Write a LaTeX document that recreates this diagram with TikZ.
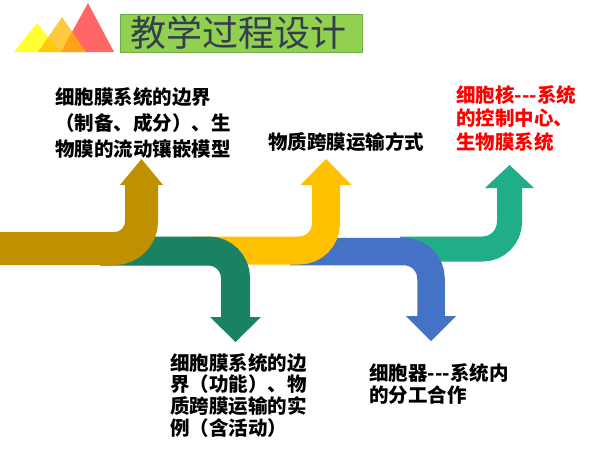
\documentclass[tikz,border=0pt]{standalone}
\usepackage{fontspec}
\newfontfamily\cjk{Noto Sans CJK SC}
\definecolor{cgold}{HTML}{BF9000}
\definecolor{cgreen}{HTML}{188262}
\definecolor{cyell}{HTML}{FFC000}
\definecolor{cblue}{HTML}{4472C4}
\definecolor{cteal}{HTML}{1FAE87}
\definecolor{ttlgreen}{HTML}{92D050}
\definecolor{ttlborder}{HTML}{70AD47}
\definecolor{ttltext}{HTML}{333F4F}
\definecolor{tri1}{HTML}{FFFF33}
\definecolor{tri2}{HTML}{FFB800}
\definecolor{tri3}{HTML}{FF6666}
\tikzset{
  lbl/.style={anchor=north west, inner sep=0pt, align=left},
  shaft/.style={line width=#1, rounded corners=27pt},
}
\begin{document}
\begin{tikzpicture}[x=1pt,y=-1pt]
\useasboundingbox[fill=white] (0,0) rectangle (600,450);
% decorative triangles
\fill[tri3] (61,52) -- (88,3) -- (114,52) -- cycle;
\fill[tri1] (14,52) -- (37,23) -- (60,52) -- cycle;
\fill[tri2, fill opacity=0.75] (38,52) -- (62,17) -- (86,52) -- cycle;
% title
\node[draw=ttlborder, fill=ttlgreen, minimum width=242pt, minimum height=38pt, inner sep=0pt, anchor=north west] (titlebox) at (120,14) {};
\node[font=\cjk\fontsize{36}{36}\selectfont, text=ttltext] (title) at (238,33) {教学过程设计};
% arrows (back to front)
% teal
\draw[shaft=25pt, cteal] (400,249) -- (509.5,249) -- (509.5,187);
\fill[cteal] (485,188) -- (534,188) -- (509.5,165) -- cycle;
% blue
\draw[shaft=27.5pt, cblue] (290,251.5) -- (431,251.5) -- (431,317);
\fill[cblue] (406,316) -- (456,316) -- (431,341) -- cycle;
% yellow
\draw[shaft=28pt, cyell] (190,250.5) -- (326,250.5) -- (326,184);
\fill[cyell] (300.5,185) -- (351.5,185) -- (326,159) -- cycle;
% green
\draw[shaft=29pt, cgreen] (100,251) -- (235.5,251) -- (235.5,318);
\fill[cgreen] (210,317) -- (261,317) -- (235.5,342) -- cycle;
% gold
\draw[shaft=33pt, cgold] (-1,248.5) -- (141.5,248.5) -- (141.5,184);
\fill[cgold] (120,185) -- (163,185) -- (141.5,159) -- cycle;
% texts
\node[lbl, font=\cjk\bfseries\fontsize{19.5}{26}\selectfont] (t1) at (55,87)
  {细胞膜系统的边界\\（制备、成分）、生\\物膜的流动镶嵌模型};
\node[lbl, font=\cjk\bfseries\fontsize{19.5}{26}\selectfont] (t2) at (268,132)
  {物质跨膜运输方式};
\node[lbl, font=\cjk\bfseries\fontsize{19.5}{23.5}\selectfont, text=red] (t3) at (456,85)
  {细胞核-{}-{}-系统\\的控制中心、\\生物膜系统};
\node[lbl, font=\cjk\bfseries\fontsize{19.5}{21.7}\selectfont] (t4) at (170,353)
  {细胞膜系统的边\\界（功能）、物\\质跨膜运输的实\\例（含活动）};
\node[lbl, font=\cjk\bfseries\fontsize{19.5}{22}\selectfont] (t5) at (369,363)
  {细胞器-{}-{}-系统内\\的分工合作};
\end{tikzpicture}
\end{document}
